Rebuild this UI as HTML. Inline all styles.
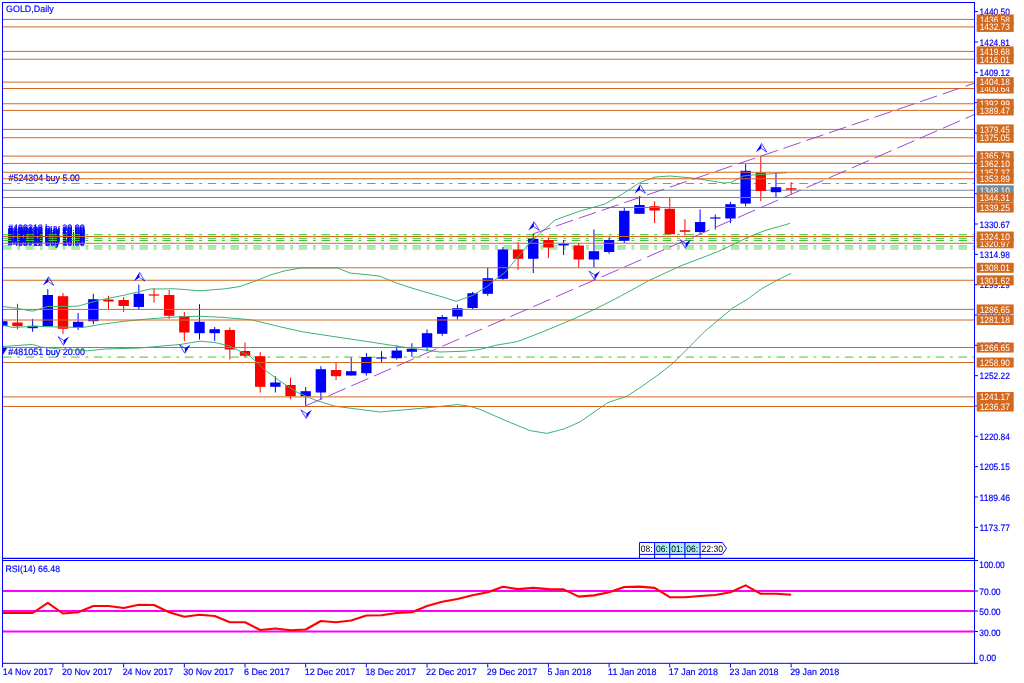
<!DOCTYPE html>
<html lang="en"><head><meta charset="utf-8"><title>GOLD, Daily</title>
<style>html,body{margin:0;padding:0;background:#fff;}body{width:1024px;height:683px;overflow:hidden;}svg{display:block;filter:blur(0.35px);}</style></head>
<body>
<svg width="1024" height="683" viewBox="0 0 1024 683" font-family="'Liberation Sans', sans-serif" font-size="10.0" text-rendering="geometricPrecision">
<rect width="1024" height="683" fill="#fff"/>
<defs><clipPath id="cm"><rect x="3" y="3" width="971.5" height="555.3"/></clipPath><clipPath id="cr"><rect x="3" y="560.5" width="971.5" height="102.8"/></clipPath></defs>
<g clip-path="url(#cm)">
<g fill="#0000ff" stroke="#0000ff" stroke-width="0.25">
<text transform="translate(8.5 180.8) scale(0.8905 0.93)">#524304 buy 5.00</text>
<text transform="translate(8 231.3) scale(0.8946 0.93)">#499318 buy 20.00</text>
<text transform="translate(8 232.6) scale(0.8946 0.93)">#499102 buy 20.00</text>
<text transform="translate(8 233.8) scale(0.8946 0.93)">#498872 buy 20.00</text>
<text transform="translate(8 235) scale(0.8946 0.93)">#498530 buy 10.00</text>
<text transform="translate(8 236.1) scale(0.8946 0.93)">#498216 buy 10.00</text>
<text transform="translate(8 237.2) scale(0.8946 0.93)">#497964 buy 10.00</text>
<text transform="translate(8 238.3) scale(0.8946 0.93)">#497731 buy 10.00</text>
<text transform="translate(8 239.5) scale(0.8946 0.93)">#497318 buy 10.00</text>
<text transform="translate(8 240.6) scale(0.8946 0.93)">#497055 buy 10.00</text>
<text transform="translate(8 241.8) scale(0.8946 0.93)">#496850 buy 10.00</text>
<text transform="translate(8 243) scale(0.8946 0.93)">#496513 buy 10.00</text>
<text transform="translate(8 244.2) scale(0.8946 0.93)">#496157 buy 10.00</text>
<text transform="translate(8 245.3) scale(0.8946 0.93)">#495906 buy 10.00</text>
<text transform="translate(8 246.4) scale(0.8946 0.93)">#495712 buy 10.00</text>
<text transform="translate(8.2 354.8) scale(0.8981 0.93)">#481051 buy 20.00</text>
<path d="M3,347.5 L7.5,347.5 L3,354.5 Z"/>
</g>
<g stroke="#32cd32" stroke-width="1" stroke-dasharray="8.5 5.7 2.85 5.7">
<line x1="3" x2="974.5" y1="183.5" y2="183.5"/>
<line x1="3" x2="974.5" y1="234.7" y2="234.7"/>
<line x1="3" x2="974.5" y1="238.3" y2="238.3"/>
<line x1="3" x2="974.5" y1="240.5" y2="240.5"/>
<line x1="3" x2="974.5" y1="245.6" y2="245.6" stroke-opacity="0.55"/>
<line x1="3" x2="974.5" y1="246.8" y2="246.8" stroke-opacity="0.55"/>
<line x1="3" x2="974.5" y1="248" y2="248" stroke-opacity="0.55"/>
<line x1="3" x2="974.5" y1="249.2" y2="249.2" stroke-opacity="0.55"/>
<line x1="3" x2="974.5" y1="357.1" y2="357.1"/>
</g>
<line x1="3" x2="974.5" y1="190.25" y2="190.25" stroke="#778899" stroke-width="1.2"/>
<line x1="2.3" x2="2.3" y1="321.2" y2="326.2" stroke="#0000ff" stroke-width="1"/>
<rect x="-2.9" y="321.2" width="10.4" height="5" fill="#0000ff"/>
<line x1="17.47" x2="17.47" y1="303.8" y2="329.2" stroke="#ff0000" stroke-width="1"/>
<rect x="12.27" y="322.5" width="10.4" height="3.7" fill="#ff0000"/>
<line x1="32.64" x2="32.64" y1="318.8" y2="331.8" stroke="#0000ff" stroke-width="1"/>
<rect x="27.44" y="325.8" width="10.4" height="2.4" fill="#0000ff"/>
<line x1="47.81" x2="47.81" y1="289" y2="326.3" stroke="#0000ff" stroke-width="1"/>
<rect x="42.61" y="295" width="10.4" height="31.3" fill="#0000ff"/>
<line x1="62.98" x2="62.98" y1="293" y2="333.8" stroke="#ff0000" stroke-width="1"/>
<rect x="57.78" y="296.2" width="10.4" height="32.6" fill="#ff0000"/>
<line x1="78.15" x2="78.15" y1="313" y2="330" stroke="#0000ff" stroke-width="1"/>
<rect x="72.95" y="321.8" width="10.4" height="5.7" fill="#0000ff"/>
<line x1="93.32" x2="93.32" y1="293.8" y2="324.2" stroke="#0000ff" stroke-width="1"/>
<rect x="88.12" y="299.2" width="10.4" height="22" fill="#0000ff"/>
<line x1="108.49" x2="108.49" y1="295.8" y2="309.5" stroke="#ff0000" stroke-width="1"/>
<rect x="103.29" y="299.5" width="10.4" height="2" fill="#ff0000"/>
<line x1="123.66" x2="123.66" y1="297" y2="312" stroke="#ff0000" stroke-width="1"/>
<rect x="118.46" y="300" width="10.4" height="6" fill="#ff0000"/>
<line x1="138.83" x2="138.83" y1="284.5" y2="309.2" stroke="#0000ff" stroke-width="1"/>
<rect x="133.63" y="293.8" width="10.4" height="13.2" fill="#0000ff"/>
<line x1="154" x2="154" y1="288" y2="302.5" stroke="#ff0000" stroke-width="1"/>
<rect x="148.8" y="294.4" width="10.4" height="1.2" fill="#ff0000"/>
<line x1="169.17" x2="169.17" y1="290" y2="318.8" stroke="#ff0000" stroke-width="1"/>
<rect x="163.97" y="295" width="10.4" height="20.8" fill="#ff0000"/>
<line x1="184.34" x2="184.34" y1="312" y2="341.2" stroke="#ff0000" stroke-width="1"/>
<rect x="179.14" y="316.2" width="10.4" height="16.3" fill="#ff0000"/>
<line x1="199.51" x2="199.51" y1="304.2" y2="339.5" stroke="#0000ff" stroke-width="1"/>
<rect x="194.31" y="321.8" width="10.4" height="11.4" fill="#0000ff"/>
<line x1="214.68" x2="214.68" y1="327" y2="340.8" stroke="#0000ff" stroke-width="1"/>
<rect x="209.48" y="329.2" width="10.4" height="4" fill="#0000ff"/>
<line x1="229.85" x2="229.85" y1="327.5" y2="359.5" stroke="#ff0000" stroke-width="1"/>
<rect x="224.65" y="330" width="10.4" height="19.5" fill="#ff0000"/>
<line x1="245.02" x2="245.02" y1="342.5" y2="357.5" stroke="#ff0000" stroke-width="1"/>
<rect x="239.82" y="351" width="10.4" height="4.8" fill="#ff0000"/>
<line x1="260.19" x2="260.19" y1="352" y2="392.5" stroke="#ff0000" stroke-width="1"/>
<rect x="254.99" y="356.2" width="10.4" height="30.6" fill="#ff0000"/>
<line x1="275.36" x2="275.36" y1="376.2" y2="392.5" stroke="#0000ff" stroke-width="1"/>
<rect x="270.16" y="382.5" width="10.4" height="4.3" fill="#0000ff"/>
<line x1="290.53" x2="290.53" y1="377.5" y2="399.2" stroke="#ff0000" stroke-width="1"/>
<rect x="285.33" y="385" width="10.4" height="11.2" fill="#ff0000"/>
<line x1="305.7" x2="305.7" y1="387" y2="405.8" stroke="#0000ff" stroke-width="1"/>
<rect x="300.5" y="391.2" width="10.4" height="5" fill="#0000ff"/>
<line x1="320.87" x2="320.87" y1="366.2" y2="399.5" stroke="#0000ff" stroke-width="1"/>
<rect x="315.67" y="369.2" width="10.4" height="23.3" fill="#0000ff"/>
<line x1="336.04" x2="336.04" y1="363" y2="380" stroke="#ff0000" stroke-width="1"/>
<rect x="330.84" y="370" width="10.4" height="6.2" fill="#ff0000"/>
<line x1="351.21" x2="351.21" y1="357.5" y2="375.5" stroke="#0000ff" stroke-width="1"/>
<rect x="346.01" y="371.2" width="10.4" height="4.3" fill="#0000ff"/>
<line x1="366.38" x2="366.38" y1="353" y2="375.5" stroke="#0000ff" stroke-width="1"/>
<rect x="361.18" y="357" width="10.4" height="16.2" fill="#0000ff"/>
<line x1="381.55" x2="381.55" y1="351.2" y2="362.5" stroke="#0000ff" stroke-width="1"/>
<rect x="376.35" y="357.4" width="10.4" height="1.2" fill="#0000ff"/>
<line x1="396.72" x2="396.72" y1="345.5" y2="359.5" stroke="#0000ff" stroke-width="1"/>
<rect x="391.52" y="350.5" width="10.4" height="7.7" fill="#0000ff"/>
<line x1="411.89" x2="411.89" y1="343.2" y2="356.8" stroke="#0000ff" stroke-width="1"/>
<rect x="406.69" y="348.8" width="10.4" height="3" fill="#0000ff"/>
<line x1="427.06" x2="427.06" y1="329.5" y2="351.2" stroke="#0000ff" stroke-width="1"/>
<rect x="421.86" y="333.2" width="10.4" height="13.8" fill="#0000ff"/>
<line x1="442.23" x2="442.23" y1="315" y2="335.8" stroke="#0000ff" stroke-width="1"/>
<rect x="437.03" y="317" width="10.4" height="16.8" fill="#0000ff"/>
<line x1="457.4" x2="457.4" y1="304.5" y2="319.5" stroke="#0000ff" stroke-width="1"/>
<rect x="452.2" y="308.2" width="10.4" height="8.3" fill="#0000ff"/>
<line x1="472.57" x2="472.57" y1="292" y2="309.5" stroke="#0000ff" stroke-width="1"/>
<rect x="467.37" y="293.2" width="10.4" height="14.8" fill="#0000ff"/>
<line x1="487.74" x2="487.74" y1="268" y2="295.8" stroke="#0000ff" stroke-width="1"/>
<rect x="482.54" y="278.2" width="10.4" height="15.6" fill="#0000ff"/>
<line x1="502.91" x2="502.91" y1="247" y2="280" stroke="#0000ff" stroke-width="1"/>
<rect x="497.71" y="249.5" width="10.4" height="29.3" fill="#0000ff"/>
<line x1="518.08" x2="518.08" y1="242" y2="270" stroke="#ff0000" stroke-width="1"/>
<rect x="512.88" y="249.5" width="10.4" height="9.3" fill="#ff0000"/>
<line x1="533.25" x2="533.25" y1="233.8" y2="273" stroke="#0000ff" stroke-width="1"/>
<rect x="528.05" y="238.8" width="10.4" height="20" fill="#0000ff"/>
<line x1="548.42" x2="548.42" y1="237.5" y2="258" stroke="#ff0000" stroke-width="1"/>
<rect x="543.22" y="240" width="10.4" height="7.5" fill="#ff0000"/>
<line x1="563.59" x2="563.59" y1="240" y2="255" stroke="#0000ff" stroke-width="1"/>
<rect x="558.39" y="243.8" width="10.4" height="1.6" fill="#0000ff"/>
<line x1="578.76" x2="578.76" y1="243" y2="267.5" stroke="#ff0000" stroke-width="1"/>
<rect x="573.56" y="245.5" width="10.4" height="14" fill="#ff0000"/>
<line x1="593.93" x2="593.93" y1="229.5" y2="267.5" stroke="#0000ff" stroke-width="1"/>
<rect x="588.73" y="251.2" width="10.4" height="8.3" fill="#0000ff"/>
<line x1="609.1" x2="609.1" y1="237.5" y2="253.8" stroke="#0000ff" stroke-width="1"/>
<rect x="603.9" y="240" width="10.4" height="12" fill="#0000ff"/>
<line x1="624.27" x2="624.27" y1="207.5" y2="243" stroke="#0000ff" stroke-width="1"/>
<rect x="619.07" y="210.8" width="10.4" height="30" fill="#0000ff"/>
<line x1="639.44" x2="639.44" y1="196.2" y2="213.8" stroke="#0000ff" stroke-width="1"/>
<rect x="634.24" y="205" width="10.4" height="8.8" fill="#0000ff"/>
<line x1="654.61" x2="654.61" y1="201.2" y2="223" stroke="#ff0000" stroke-width="1"/>
<rect x="649.41" y="206.2" width="10.4" height="4.3" fill="#ff0000"/>
<line x1="669.78" x2="669.78" y1="197.5" y2="234.2" stroke="#ff0000" stroke-width="1"/>
<rect x="664.58" y="208.8" width="10.4" height="25.4" fill="#ff0000"/>
<line x1="684.95" x2="684.95" y1="219.2" y2="235.5" stroke="#ff0000" stroke-width="1"/>
<rect x="679.75" y="230.2" width="10.4" height="1.6" fill="#ff0000"/>
<line x1="700.12" x2="700.12" y1="209.5" y2="233.8" stroke="#0000ff" stroke-width="1"/>
<rect x="694.92" y="222" width="10.4" height="10" fill="#0000ff"/>
<line x1="715.29" x2="715.29" y1="214.5" y2="229.5" stroke="#0000ff" stroke-width="1"/>
<rect x="710.09" y="217.4" width="10.4" height="1.2" fill="#0000ff"/>
<line x1="730.46" x2="730.46" y1="202" y2="223.2" stroke="#0000ff" stroke-width="1"/>
<rect x="725.26" y="204.2" width="10.4" height="14.3" fill="#0000ff"/>
<line x1="745.63" x2="745.63" y1="164.2" y2="206.4" stroke="#0000ff" stroke-width="1"/>
<rect x="740.43" y="170.8" width="10.4" height="32.8" fill="#0000ff"/>
<line x1="760.8" x2="760.8" y1="156.2" y2="201.2" stroke="#ff0000" stroke-width="1"/>
<rect x="755.6" y="172.7" width="10.4" height="18.3" fill="#ff0000"/>
<line x1="775.97" x2="775.97" y1="172.7" y2="197" stroke="#0000ff" stroke-width="1"/>
<rect x="770.77" y="187.2" width="10.4" height="5" fill="#0000ff"/>
<line x1="791.14" x2="791.14" y1="182.2" y2="194.2" stroke="#ff0000" stroke-width="1"/>
<rect x="785.94" y="188.2" width="10.4" height="1.4" fill="#ff0000"/>
<g fill="none" stroke="#3cb371" stroke-width="1" stroke-linejoin="round">
<polyline points="3,306.5 15,308 32.5,311.2 47.5,306.5 77.5,306.2 100,300 125,295 150,289 175,288.8 200,290.8 225,288.8 240,286.5 255,281.2 270,275 285,270.8 301,268 337.5,268 350,273 365,274.5 380,276.2 395,282.5 410,287.5 425,292 440,296.2 456,301.3 472.5,295.5 487.5,286.2 496,279 505,272.5 530,242.5 555,220 580,211 605,204 622.5,194 640,182.5 655,177 670,176 692,178 705.6,180 724,183 731,182.5 743,176 752.5,175 768,174 787,172.7"/>
<polyline points="3,325 12.5,327.5 35,326.2 50,326.8 82.5,327.5 100,324.5 125,321.2 150,318.8 175,317 200,316.2 225,317.5 240,318.8 252.5,320 277.5,326.2 302.5,331.8 340,337.5 365,341.2 395,345.8 415,348.8 440,352 465,351.2 480,349.4 495.6,345.3 517.5,341.6 542.5,331.9 570.6,320.3 595.6,308.8 620.6,296.2 648.8,280.6 680,266.2 718,251.6 749.4,236.7 765,230.5 790,223.4"/>
<polyline points="3,346.5 32.5,344.4 41,347 62.5,349.4 87.5,350.8 105,349 140,348 160,346.2 180,344.5 200,341.2 215,342.5 230,346.2 240,351.2 250,356.2 265,370 280,381.2 297.5,392.5 315,400 335,406.2 355,408.8 380,412 402.5,410 435,407 457.5,404.5 470,406.3 480,409.4 505,420.3 530,430.6 547,433.4 564.4,428.8 580,421.9 595.6,411 608,402.5 627,396.2 642.5,386 658,375 673.8,362.5 689.4,346.9 705,331.2 719,319.4 733,307.8 747.2,299.4 761.2,289 776.9,280.3 791,273.4"/>
</g>
<g stroke="#d2691e" stroke-width="1" shape-rendering="auto">
<line x1="3" x2="974.5" y1="19.4" y2="19.4"/>
<line x1="3" x2="974.5" y1="26.9" y2="26.9"/>
<line x1="3" x2="974.5" y1="51.4" y2="51.4"/>
<line x1="3" x2="974.5" y1="59.25" y2="59.25"/>
<line x1="3" x2="974.5" y1="82.1" y2="82.1"/>
<line x1="3" x2="974.5" y1="88.5" y2="88.5"/>
<line x1="3" x2="974.5" y1="103.75" y2="103.75"/>
<line x1="3" x2="974.5" y1="110.4" y2="110.4"/>
<line x1="3" x2="974.5" y1="129.4" y2="129.4"/>
<line x1="3" x2="974.5" y1="137.75" y2="137.75"/>
<line x1="3" x2="974.5" y1="156.1" y2="156.1"/>
<line x1="3" x2="974.5" y1="163.45" y2="163.45"/>
<line x1="3" x2="974.5" y1="172.25" y2="172.25"/>
<line x1="3" x2="974.5" y1="178.75" y2="178.75"/>
<line x1="3" x2="974.5" y1="197.5" y2="197.5"/>
<line x1="3" x2="974.5" y1="207.5" y2="207.5"/>
<line x1="3" x2="974.5" y1="236.5" y2="236.5"/>
<line x1="3" x2="974.5" y1="243.25" y2="243.25"/>
<line x1="3" x2="974.5" y1="267.75" y2="267.75"/>
<line x1="3" x2="974.5" y1="280.25" y2="280.25"/>
<line x1="3" x2="974.5" y1="309.4" y2="309.4"/>
<line x1="3" x2="974.5" y1="320" y2="320"/>
<line x1="3" x2="974.5" y1="347.5" y2="347.5"/>
<line x1="3" x2="974.5" y1="362.5" y2="362.5"/>
<line x1="3" x2="974.5" y1="396.9" y2="396.9"/>
<line x1="3" x2="974.5" y1="406.5" y2="406.5"/>
</g>
<line x1="533.25" y1="233.8" x2="974.5" y2="83.2" stroke="#9932cc" stroke-width="0.9" stroke-dasharray="18.03 6.01"/>
<line x1="305.7" y1="405.8" x2="974.5" y2="114.5" stroke="#9932cc" stroke-width="0.9" stroke-dasharray="18.61 6.21"/>
<path d="M48.41,276.6 l-5.6,9 l5.6,-3.8 Z" fill="#0000ff"/>
<path d="M48.41,276.6 l5.4,8.8 l-5.4,-3.6" fill="none" stroke="#0000ff" stroke-width="0.9" stroke-opacity="0.8"/>
<path d="M139.43,272.3 l-5.6,9 l5.6,-3.8 Z" fill="#0000ff"/>
<path d="M139.43,272.3 l5.4,8.8 l-5.4,-3.6" fill="none" stroke="#0000ff" stroke-width="0.9" stroke-opacity="0.8"/>
<path d="M533.85,221.5 l-5.6,9 l5.6,-3.8 Z" fill="#0000ff"/>
<path d="M533.85,221.5 l5.4,8.8 l-5.4,-3.6" fill="none" stroke="#0000ff" stroke-width="0.9" stroke-opacity="0.8"/>
<path d="M640.04,184.5 l-5.6,9 l5.6,-3.8 Z" fill="#0000ff"/>
<path d="M640.04,184.5 l5.4,8.8 l-5.4,-3.6" fill="none" stroke="#0000ff" stroke-width="0.9" stroke-opacity="0.8"/>
<path d="M761.4,143.3 l-5.6,9 l5.6,-3.8 Z" fill="#0000ff"/>
<path d="M761.4,143.3 l5.4,8.8 l-5.4,-3.6" fill="none" stroke="#0000ff" stroke-width="0.9" stroke-opacity="0.8"/>
<path d="M63.58,345.5 l5.6,-9 l-5.6,3.8 Z" fill="#0000ff"/>
<path d="M63.58,345.5 l-5.4,-8.8 l5.4,3.6" fill="none" stroke="#0000ff" stroke-width="0.9" stroke-opacity="0.8"/>
<path d="M184.94,353.5 l5.6,-9 l-5.6,3.8 Z" fill="#0000ff"/>
<path d="M184.94,353.5 l-5.4,-8.8 l5.4,3.6" fill="none" stroke="#0000ff" stroke-width="0.9" stroke-opacity="0.8"/>
<path d="M306.3,418.7 l5.6,-9 l-5.6,3.8 Z" fill="#0000ff"/>
<path d="M306.3,418.7 l-5.4,-8.8 l5.4,3.6" fill="none" stroke="#0000ff" stroke-width="0.9" stroke-opacity="0.8"/>
<path d="M594.53,280 l5.6,-9 l-5.6,3.8 Z" fill="#0000ff"/>
<path d="M594.53,280 l-5.4,-8.8 l5.4,3.6" fill="none" stroke="#0000ff" stroke-width="0.9" stroke-opacity="0.8"/>
<path d="M685.55,248.5 l5.6,-9 l-5.6,3.8 Z" fill="#0000ff"/>
<path d="M685.55,248.5 l-5.4,-8.8 l5.4,3.6" fill="none" stroke="#0000ff" stroke-width="0.9" stroke-opacity="0.8"/>
<g stroke="#0000ff" stroke-width="1">
<path d="M639.44,558 V542.5 H654.84 V554.4 H639.44" fill="#fff"/>
<path d="M654.61,558 V542.5 H670.01 V554.4 H654.61" fill="#afeeee"/>
<path d="M669.78,558 V542.5 H685.18 V554.4 H669.78" fill="#afeeee"/>
<path d="M684.95,558 V542.5 H700.35 V554.4 H684.95" fill="#afeeee"/>
<path d="M700.12,558 V542.5 H722.32 L726.52,548.4 L722.32,554.4 H700.12" fill="#fff"/>
</g>
<g fill="#000">
<text transform="translate(640.84 551.9) scale(0.8489 0.93)">08:</text>
<text transform="translate(656.01 551.9) scale(0.8489 0.93)">06:</text>
<text transform="translate(671.18 551.9) scale(0.8489 0.93)">01:</text>
<text transform="translate(686.35 551.9) scale(0.8489 0.93)">06:</text>
<text transform="translate(701.42 551.9) scale(0.8672 0.93)">22:30</text>
</g>
<g stroke="#0000ff" stroke-width="0.2"><text transform="translate(6 12.1) scale(0.8923 0.93)" fill="#0000ff">GOLD,Daily</text></g>
</g>
<g clip-path="url(#cr)">
<g stroke="#ff00ff" stroke-width="2.1">
<line x1="3" x2="974.5" y1="591" y2="591"/>
<line x1="3" x2="974.5" y1="611" y2="611"/>
<line x1="3" x2="974.5" y1="631.5" y2="631.5"/>
</g>
<polyline fill="none" stroke="#ff0000" stroke-width="2.1" stroke-linejoin="round" points="2.3,613 17.47,613 32.64,613 47.81,602.8 62.98,613.5 78.15,612.2 93.32,606 108.49,606 123.66,608 138.83,604.8 154,605 169.17,612.2 184.34,616.8 199.51,614.8 214.68,616 229.85,622.2 245.02,622.2 260.19,630 275.36,628.5 290.53,630.2 305.7,629.5 320.87,621 336.04,622.2 351.21,620.5 366.38,615.5 381.55,615.2 396.72,613 411.89,612.2 427.06,606 442.23,601.8 457.4,599 472.57,595.2 487.74,592.2 502.91,586.7 518.08,589.1 533.25,587.9 548.42,589.1 563.59,589.4 578.76,596.6 593.93,595.4 609.1,592.2 624.27,587 639.44,586.6 654.61,587.9 669.78,597.2 684.95,597.2 700.12,596 715.29,595 730.46,592.2 745.63,585.4 760.8,593.8 775.97,593.8 791.14,594.8"/>
<g stroke="#0000ff" stroke-width="0.2"><text transform="translate(5.4 571.8) scale(0.8771 0.93)" fill="#0000ff">RSI(14) 66.48</text></g>
</g>
<g stroke="#0000ff" stroke-width="1" fill="none">
<path d="M2.5,2 V667.3"/>
<path d="M2,2.5 H975"/>
<path d="M974.5,2 V663.8"/>
<path d="M2.5,558.3 H974.5" stroke-width="1.25"/>
<path d="M2.5,560.5 H978"/>
<path d="M2.5,663.3 H978"/>
<path d="M974.5,11.64 h3.5"/>
<path d="M974.5,41.98 h3.5"/>
<path d="M974.5,72.32 h3.5"/>
<path d="M974.5,102.65 h3.5"/>
<path d="M974.5,132.99 h3.5"/>
<path d="M974.5,163.32 h3.5"/>
<path d="M974.5,193.66 h3.5"/>
<path d="M974.5,223.99 h3.5"/>
<path d="M974.5,254.33 h3.5"/>
<path d="M974.5,284.66 h3.5"/>
<path d="M974.5,315 h3.5"/>
<path d="M974.5,345.33 h3.5"/>
<path d="M974.5,375.67 h3.5"/>
<path d="M974.5,406 h3.5"/>
<path d="M974.5,436.34 h3.5"/>
<path d="M974.5,466.68 h3.5"/>
<path d="M974.5,497.01 h3.5"/>
<path d="M974.5,527.35 h3.5"/>
<path d="M974.5,591 h3.5"/>
<path d="M974.5,611 h3.5"/>
<path d="M974.5,631.5 h3.5"/>
<path d="M62.98,663.3 v4.2"/>
<path d="M123.66,663.3 v4.2"/>
<path d="M184.34,663.3 v4.2"/>
<path d="M245.02,663.3 v4.2"/>
<path d="M305.7,663.3 v4.2"/>
<path d="M366.38,663.3 v4.2"/>
<path d="M427.06,663.3 v4.2"/>
<path d="M487.74,663.3 v4.2"/>
<path d="M548.42,663.3 v4.2"/>
<path d="M609.1,663.3 v4.2"/>
<path d="M669.78,663.3 v4.2"/>
<path d="M730.46,663.3 v4.2"/>
<path d="M791.14,663.3 v4.2"/>
</g>
<g fill="#0000ff" stroke="#0000ff" stroke-width="0.2">
<text transform="translate(979.6 15.24) scale(0.8383 0.93)">1440.50</text>
<text transform="translate(979.6 45.58) scale(0.8383 0.93)">1424.81</text>
<text transform="translate(979.6 75.92) scale(0.8383 0.93)">1409.12</text>
<text transform="translate(979.6 106.25) scale(0.8383 0.93)">1393.43</text>
<text transform="translate(979.6 136.59) scale(0.8383 0.93)">1377.74</text>
<text transform="translate(979.6 166.92) scale(0.8383 0.93)">1362.05</text>
<text transform="translate(979.6 197.26) scale(0.8383 0.93)">1346.36</text>
<text transform="translate(979.6 227.59) scale(0.8383 0.93)">1330.67</text>
<text transform="translate(979.6 257.93) scale(0.8383 0.93)">1314.98</text>
<text transform="translate(979.6 288.26) scale(0.8383 0.93)">1299.29</text>
<text transform="translate(979.6 318.6) scale(0.8383 0.93)">1283.60</text>
<text transform="translate(979.6 348.93) scale(0.8383 0.93)">1267.91</text>
<text transform="translate(979.6 379.27) scale(0.8383 0.93)">1252.22</text>
<text transform="translate(979.6 409.6) scale(0.8383 0.93)">1236.53</text>
<text transform="translate(979.6 439.94) scale(0.8383 0.93)">1220.84</text>
<text transform="translate(979.6 470.28) scale(0.8383 0.93)">1205.15</text>
<text transform="translate(979.6 500.61) scale(0.8559 0.93)">1189.46</text>
<text transform="translate(979.6 530.95) scale(0.8559 0.93)">1173.77</text>
<text transform="translate(979.3 567.9) scale(0.8305 0.93)">100.00</text>
<text transform="translate(979.3 595.2) scale(0.8513 0.93)">70.00</text>
<text transform="translate(979.3 615) scale(0.8513 0.93)">50.00</text>
<text transform="translate(979.3 635.6) scale(0.8513 0.93)">30.00</text>
<text transform="translate(979.3 660.9) scale(0.8684 0.93)">0.00</text>
<text transform="translate(2.7 675.2) scale(0.8920 0.93)">14 Nov 2017</text>
<text transform="translate(61.98 675.2) scale(0.8920 0.93)">20 Nov 2017</text>
<text transform="translate(122.66 675.2) scale(0.8920 0.93)">24 Nov 2017</text>
<text transform="translate(183.34 675.2) scale(0.8920 0.93)">30 Nov 2017</text>
<text transform="translate(244.02 675.2) scale(0.8920 0.93)">6 Dec 2017</text>
<text transform="translate(304.7 675.2) scale(0.8920 0.93)">12 Dec 2017</text>
<text transform="translate(365.38 675.2) scale(0.8920 0.93)">18 Dec 2017</text>
<text transform="translate(426.06 675.2) scale(0.8920 0.93)">22 Dec 2017</text>
<text transform="translate(486.74 675.2) scale(0.8920 0.93)">29 Dec 2017</text>
<text transform="translate(547.42 675.2) scale(0.8920 0.93)">5 Jan 2018</text>
<text transform="translate(608.1 675.2) scale(0.8920 0.93)">11 Jan 2018</text>
<text transform="translate(668.78 675.2) scale(0.8920 0.93)">17 Jan 2018</text>
<text transform="translate(729.46 675.2) scale(0.8920 0.93)">23 Jan 2018</text>
<text transform="translate(790.14 675.2) scale(0.8920 0.93)">29 Jan 2018</text>
</g>
<rect x="976.7" y="14.45" width="37" height="10" fill="#d2691e"/>
<text transform="translate(979.7 22.7) scale(0.8356 0.93)" fill="#fff">1436.58</text>
<rect x="976.7" y="21.95" width="37" height="10" fill="#d2691e"/>
<text transform="translate(979.7 30.2) scale(0.8356 0.93)" fill="#fff">1432.73</text>
<rect x="976.7" y="54.3" width="37" height="10" fill="#d2691e"/>
<text transform="translate(979.7 62.55) scale(0.8356 0.93)" fill="#fff">1416.01</text>
<rect x="976.7" y="46.45" width="37" height="10" fill="#d2691e"/>
<text transform="translate(979.7 54.7) scale(0.8356 0.93)" fill="#fff">1419.68</text>
<rect x="976.7" y="83.55" width="37" height="10" fill="#d2691e"/>
<text transform="translate(979.7 91.8) scale(0.8356 0.93)" fill="#fff">1400.64</text>
<rect x="976.7" y="77.15" width="37" height="10" fill="#d2691e"/>
<text transform="translate(979.7 85.4) scale(0.8356 0.93)" fill="#fff">1404.18</text>
<rect x="976.7" y="98.8" width="37" height="10" fill="#d2691e"/>
<text transform="translate(979.7 107.05) scale(0.8356 0.93)" fill="#fff">1392.99</text>
<rect x="976.7" y="105.45" width="37" height="10" fill="#d2691e"/>
<text transform="translate(979.7 113.7) scale(0.8356 0.93)" fill="#fff">1389.47</text>
<rect x="976.7" y="124.45" width="37" height="10" fill="#d2691e"/>
<text transform="translate(979.7 132.7) scale(0.8356 0.93)" fill="#fff">1379.45</text>
<rect x="976.7" y="132.8" width="37" height="10" fill="#d2691e"/>
<text transform="translate(979.7 141.05) scale(0.8356 0.93)" fill="#fff">1375.05</text>
<rect x="976.7" y="151.15" width="37" height="10" fill="#d2691e"/>
<text transform="translate(979.7 159.4) scale(0.8356 0.93)" fill="#fff">1365.79</text>
<rect x="976.7" y="158.5" width="37" height="10" fill="#d2691e"/>
<text transform="translate(979.7 166.75) scale(0.8356 0.93)" fill="#fff">1362.10</text>
<rect x="976.7" y="167.3" width="37" height="10" fill="#d2691e"/>
<text transform="translate(979.7 175.55) scale(0.8356 0.93)" fill="#fff">1357.37</text>
<rect x="976.7" y="173.8" width="37" height="10" fill="#d2691e"/>
<text transform="translate(979.7 182.05) scale(0.8356 0.93)" fill="#fff">1353.89</text>
<rect x="976.7" y="185.3" width="37" height="10" fill="#778899"/>
<text transform="translate(979.7 193.55) scale(0.8356 0.93)" fill="#fff">1348.10</text>
<rect x="976.7" y="192.55" width="37" height="10" fill="#d2691e"/>
<text transform="translate(979.7 200.8) scale(0.8356 0.93)" fill="#fff">1344.31</text>
<rect x="976.7" y="202.55" width="37" height="10" fill="#d2691e"/>
<text transform="translate(979.7 210.8) scale(0.8356 0.93)" fill="#fff">1339.25</text>
<rect x="976.7" y="238.3" width="37" height="10" fill="#d2691e"/>
<text transform="translate(979.7 246.55) scale(0.8356 0.93)" fill="#fff">1320.97</text>
<rect x="976.7" y="231.55" width="37" height="10" fill="#d2691e"/>
<text transform="translate(979.7 239.8) scale(0.8356 0.93)" fill="#fff">1324.10</text>
<rect x="976.7" y="262.8" width="37" height="10" fill="#d2691e"/>
<text transform="translate(979.7 271.05) scale(0.8356 0.93)" fill="#fff">1308.01</text>
<rect x="976.7" y="275.3" width="37" height="10" fill="#d2691e"/>
<text transform="translate(979.7 283.55) scale(0.8356 0.93)" fill="#fff">1301.62</text>
<rect x="976.7" y="304.45" width="37" height="10" fill="#d2691e"/>
<text transform="translate(979.7 312.7) scale(0.8356 0.93)" fill="#fff">1286.65</text>
<rect x="976.7" y="315.05" width="37" height="10" fill="#d2691e"/>
<text transform="translate(979.7 323.3) scale(0.8356 0.93)" fill="#fff">1281.18</text>
<rect x="976.7" y="342.55" width="37" height="10" fill="#d2691e"/>
<text transform="translate(979.7 350.8) scale(0.8356 0.93)" fill="#fff">1266.65</text>
<rect x="976.7" y="357.55" width="37" height="10" fill="#d2691e"/>
<text transform="translate(979.7 365.8) scale(0.8356 0.93)" fill="#fff">1258.90</text>
<rect x="976.7" y="401.55" width="37" height="10" fill="#d2691e"/>
<text transform="translate(979.7 409.8) scale(0.8356 0.93)" fill="#fff">1236.37</text>
<rect x="976.7" y="391.95" width="37" height="10" fill="#d2691e"/>
<text transform="translate(979.7 400.2) scale(0.8356 0.93)" fill="#fff">1241.17</text>
</svg>
</body></html>
